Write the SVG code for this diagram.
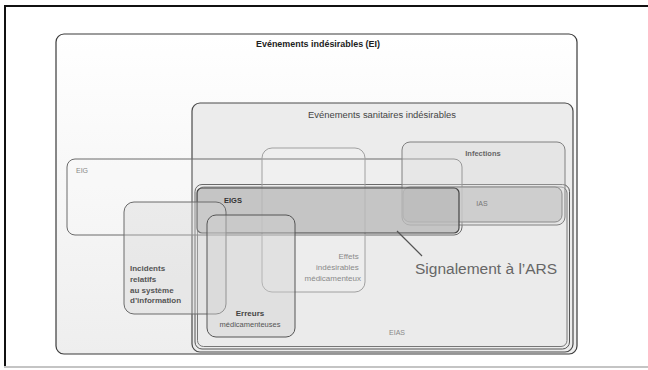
<svg xmlns="http://www.w3.org/2000/svg" width="648" height="370" viewBox="0 0 648 370">
  <defs>
    <linearGradient id="gradEI" x1="0" y1="0" x2="0" y2="1">
      <stop offset="0" stop-color="#ffffff"/>
      <stop offset="1" stop-color="#eeeeee"/>
    </linearGradient>
    <style>
      .lbl { font-family: "Liberation Sans", Arial, sans-serif; }
      .title { font-size: 8.5px; font-weight: bold; fill: #222; }
      .sub { font-size: 8.5px; fill: #444; }
      .small { font-size: 7px; fill: #888; }
      .boxtxt { font-size: 8px; font-weight: bold; fill: #555; }
      .soft { font-size: 8px; fill: #8a8a8a; }
    </style>
  </defs>

  <rect width="648" height="370" fill="#ffffff"/>

  <!-- page frame -->
  <g id="frame">
    <line x1="4" y1="6" x2="648" y2="6" stroke="#111" stroke-width="2"/>
    <line x1="5" y1="5" x2="5" y2="367" stroke="#111" stroke-width="2"/>
    <line x1="4" y1="367" x2="648" y2="367" stroke="#c4c4c4" stroke-width="2"/>
  </g>

  <!-- Evénements indésirables -->
  <g id="ei">
    <rect x="56" y="34" width="521" height="320" rx="8" fill="url(#gradEI)" stroke="#3a3a3a" stroke-width="1.2"/>
    <text class="lbl title" x="318" y="47" text-anchor="middle" textLength="124" lengthAdjust="spacingAndGlyphs">Evénements indésirables (EI)</text>
  </g>

  <!-- Evénements sanitaires indésirables -->
  <g id="esi">
    <rect x="192" y="103" width="381" height="249" rx="8" fill="#ececec" stroke="#4a4a4a" stroke-width="1.2"/>
    <text class="lbl sub" x="382" y="118" text-anchor="middle" textLength="148" lengthAdjust="spacingAndGlyphs">Evénements sanitaires indésirables</text>
  </g>

  <!-- EIAS (double outline) -->
  <g id="eias">
    <rect x="195" y="184.5" width="374.5" height="164.5" rx="7" fill="#ebebeb" stroke="#555" stroke-width="1"/>
    <rect x="197.5" y="187" width="369.5" height="159.5" rx="6" fill="none" stroke="#777" stroke-width="1"/>
    <text class="lbl small" x="397" y="335" text-anchor="middle">EIAS</text>
  </g>

  <!-- EIG -->
  <g id="eig">
    <rect x="67" y="159" width="395" height="76" rx="8" fill="#ffffff" fill-opacity="0.12" stroke="#6a6a6a" stroke-width="1"/>
    <text class="lbl small" x="76" y="173">EIG</text>
  </g>

  <!-- Effets indésirables médicamenteux -->
  <g id="effets">
    <rect x="262" y="148" width="103" height="144" rx="10" fill="#ffffff" fill-opacity="0.12" stroke="#a0a0a0" stroke-width="1"/>
    <text class="lbl soft" text-anchor="end">
      <tspan x="361" y="259">Effets</tspan>
      <tspan x="361" y="270">indésirables</tspan>
      <tspan x="361" y="281">médicamenteux</tspan>
    </text>
  </g>

  <!-- Infections -->
  <g id="infections">
    <rect x="402" y="142" width="163" height="83" rx="8" fill="#dcdcdc" fill-opacity="0.4" stroke="#808080" stroke-width="1"/>
    <text class="lbl boxtxt" x="483" y="156" text-anchor="middle" style="font-size:7.5px;fill:#666">Infections</text>
  </g>

  <!-- IAS -->
  <g id="ias">
    <rect x="403" y="187" width="159" height="35" rx="7" fill="#c8c8c8" fill-opacity="0.8" stroke="#8a8a8a" stroke-width="1"/>
    <text class="lbl small" x="482" y="206" text-anchor="middle" style="fill:#777">IAS</text>
  </g>

  <!-- EIGS -->
  <g id="eigs">
    <rect x="197" y="188" width="262" height="45" rx="5" fill="#bababa" fill-opacity="0.8" stroke="#444" stroke-width="1.2"/>
    <text class="lbl boxtxt" x="224" y="203" style="font-size:7.5px;fill:#333">EIGS</text>
  </g>

  <!-- Incidents relatifs au système d'information -->
  <g id="incidents">
    <rect x="124" y="202" width="102" height="112" rx="10" fill="#d4d4d4" fill-opacity="0.35" stroke="#6a6a6a" stroke-width="1"/>
    <text class="lbl boxtxt">
      <tspan x="130" y="271">Incidents</tspan>
      <tspan x="130" y="282">relatifs</tspan>
      <tspan x="130" y="293">au système</tspan>
      <tspan x="130" y="303">d’information</tspan>
    </text>
  </g>

  <!-- Erreurs médicamenteuses -->
  <g id="erreurs">
    <rect x="207" y="215" width="88" height="122" rx="9" fill="#cfcfcf" fill-opacity="0.4" stroke="#555" stroke-width="1"/>
    <text class="lbl boxtxt" x="250" y="316" text-anchor="middle" style="fill:#444">Erreurs</text>
    <text class="lbl" x="250" y="327" text-anchor="middle" style="font-size:7.5px;fill:#555">médicamenteuses</text>
  </g>

  <!-- callout -->
  <g id="connectors">
    <line x1="397" y1="231" x2="422" y2="256" stroke="#555" stroke-width="1.2"/>
  </g>
  <g id="signalement">
    <text class="lbl" x="415" y="274" style="font-size:15.5px;fill:#666">Signalement à l’ARS</text>
  </g>
</svg>
